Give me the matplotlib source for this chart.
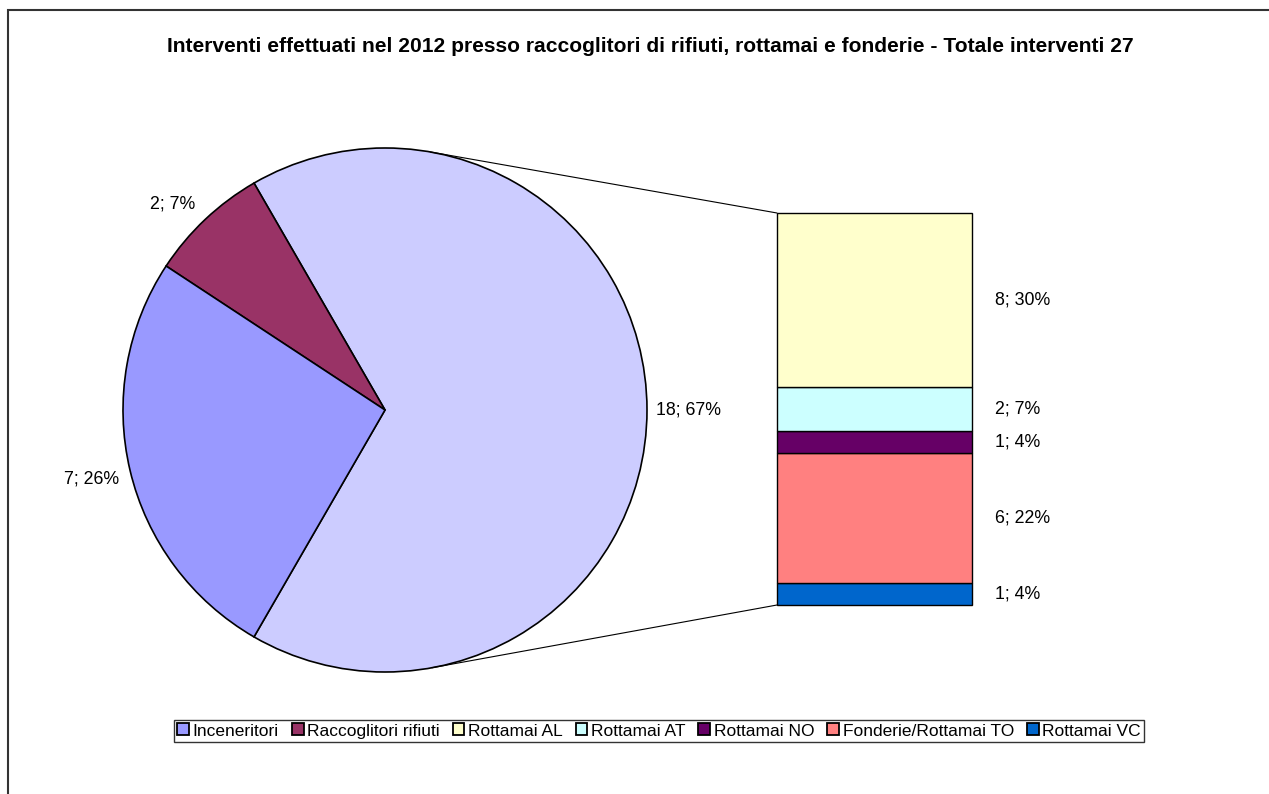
import matplotlib
matplotlib.use("Agg")
import matplotlib.pyplot as plt
from matplotlib.patches import ConnectionPatch, Rectangle
import numpy as np

plt.rcParams['font.family'] = ['Liberation Sans', 'DejaVu Sans']

title = "Interventi effettuati nel 2012 presso raccoglitori di rifiuti, rottamai e fonderie - Totale interventi 27"

# pie slices (the first one is split out into the bar)
pie_names = ["Altro", "Raccoglitori rifiuti", "Inceneritori"]
pie_colors = ["#CCCCFF", "#993366", "#9999FF"]

# bar segments, bottom to top
bar_names = ["Rottamai VC", "Fonderie/Rottamai TO", "Rottamai NO", "Rottamai AT", "Rottamai AL"]
bar_values = [1, 6, 1, 2, 8]
bar_colors = ["#0066CC", "#FF8080", "#660066", "#CCFFFF", "#FFFFCC"]

legend_order = ["Inceneritori", "Raccoglitori rifiuti", "Rottamai AL", "Rottamai AT",
                "Rottamai NO", "Fonderie/Rottamai TO", "Rottamai VC"]

pie_values = [sum(bar_values), 2, 7]
total = sum(pie_values)

W, H = 1269, 794
fig = plt.figure(figsize=(W / 100, H / 100), dpi=100)

# main axes in pixel units, y pointing up
ax = fig.add_axes([0, 0, 1, 1])

# chart frame (right and bottom edges fall outside the image)
ax.add_patch(Rectangle((8, -20), W + 40, H - 10 + 20, fill=False,
                       edgecolor='#333333', lw=1.5, clip_on=False))

cx, cy, r = 385, H - 410, 262
half = 180 * pie_values[0] / total
wedges, _ = ax.pie(pie_values, colors=pie_colors, startangle=-half, counterclock=True,
                   center=(cx, cy), radius=r, frame=True,
                   wedgeprops=dict(edgecolor='black', linewidth=1.2))
ax.set_xlim(0, W)
ax.set_ylim(0, H)
ax.set_aspect('equal')
ax.axis('off')

# label distance (in radii) and angle shift (degrees) per slice
label_dist = [1.16, 1.13, 1.15]
label_shift = [0, 2.5, 0]
for w, v, f, s in zip(wedges, pie_values, label_dist, label_shift):
    mid = np.deg2rad((w.theta1 + w.theta2) / 2 + s)
    d = r * f
    ax.text(cx + d * np.cos(mid), cy + d * np.sin(mid),
            f"{v}; {round(100 * v / total)}%", ha='center', va='center', fontsize=12.8)

# stacked bar for the split slice
bx0, by0, bw, bh = 777, H - 605, 195, 392
axb = fig.add_axes([bx0 / W, by0 / H, bw / W, bh / H])
bottom = 0
for name, v, c in zip(bar_names, bar_values, bar_colors):
    axb.bar(0, v, width=1, bottom=bottom, color=c, edgecolor='black', linewidth=1,
            clip_on=False)
    axb.text(1.12, bottom + v / 2, f"{v}; {round(100 * v / total)}%",
             transform=axb.get_yaxis_transform(), ha='left', va='center', fontsize=12.8)
    bottom += v
axb.set_xlim(-0.5, 0.5)
axb.set_ylim(0, bottom)
axb.axis('off')

# connector lines from the pie to the bar corners
for yb in (0, bottom):
    bxp = bx0
    byp = by0 + (bh if yb else 0)
    d = np.hypot(bxp - cx, byp - cy)
    ang = np.arctan2(byp - cy, bxp - cx)
    ang += np.sign(byp - cy) * np.arccos(r / d)
    con = ConnectionPatch(xyA=(cx + r * np.cos(ang), cy + r * np.sin(ang)), coordsA=ax.transData,
                          xyB=(-0.5, yb), coordsB=axb.transData, color='black', lw=0.8)
    fig.add_artist(con)

# legend
colors_by_name = dict(zip(pie_names + bar_names, pie_colors + bar_colors))
handles = [Rectangle((0, 0), 1, 1, facecolor=colors_by_name[n], edgecolor='black', lw=1.3)
           for n in legend_order]
leg = fig.legend(handles, legend_order, loc='center', bbox_to_anchor=(659 / W, 1 - 731 / H),
                 ncol=7, fontsize=12.5, frameon=True, fancybox=False, borderpad=0.2,
                 handlelength=0.68, handleheight=0.68, handletextpad=0.2,
                 columnspacing=0.75, borderaxespad=0)
leg.get_frame().set_edgecolor('black')
leg.get_frame().set_linewidth(1)

fig.text(650 / W, 1 - 47 / H, title, ha='center', va='center',
         fontsize=15.1, fontweight='bold')

fig.savefig("out.png", dpi=100)
